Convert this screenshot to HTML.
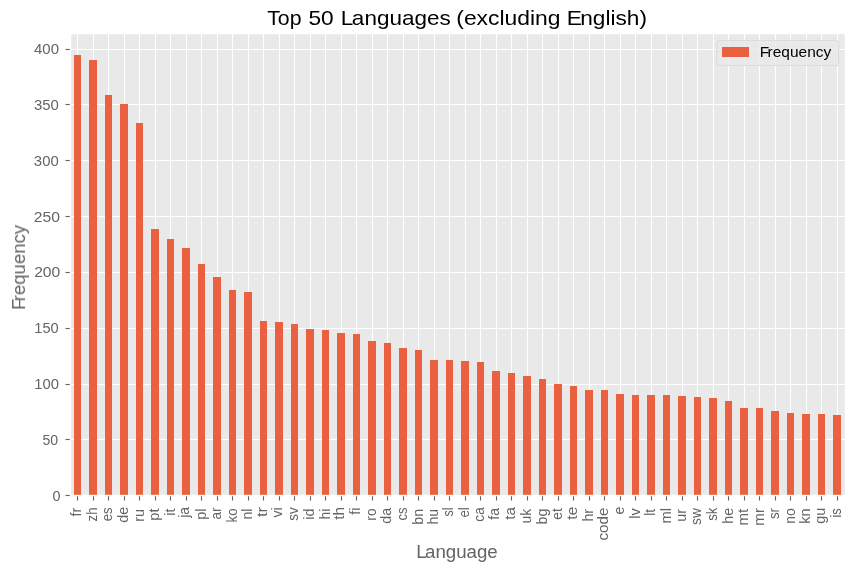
<!DOCTYPE html>
<html lang="en"><head><meta charset="utf-8"><title>Top 50 Languages (excluding English)</title>
<style>html,body{margin:0;padding:0;background:#fff;overflow:hidden}svg{display:block}text{font-family:"Liberation Sans",sans-serif;white-space:pre}.t{fill:#646464}.k{fill:#000}.b{fill:#e96141}.g{fill:#ffffff}.m{fill:#646464}</style></head><body>
<svg width="854" height="572" viewBox="0 0 854 572">
<rect x="0" y="0" width="854" height="572" fill="#fff"/>
<rect x="71.19" y="34.19" width="773.62" height="460.62" fill="#e9e9e9"/>
<g class="g" shape-rendering="crispEdges">
<rect x="71" y="49" width="774" height="1"/>
<rect x="71" y="104" width="774" height="1"/>
<rect x="71" y="160" width="774" height="1"/>
<rect x="71" y="216" width="774" height="1"/>
<rect x="71" y="272" width="774" height="1"/>
<rect x="71" y="328" width="774" height="1"/>
<rect x="71" y="384" width="774" height="1"/>
<rect x="71" y="439" width="774" height="1"/>
<rect x="77" y="34" width="1" height="461"/>
<rect x="93" y="34" width="1" height="461"/>
<rect x="108" y="34" width="1" height="461"/>
<rect x="124" y="34" width="1" height="461"/>
<rect x="139" y="34" width="1" height="461"/>
<rect x="155" y="34" width="1" height="461"/>
<rect x="170" y="34" width="1" height="461"/>
<rect x="186" y="34" width="1" height="461"/>
<rect x="201" y="34" width="1" height="461"/>
<rect x="217" y="34" width="1" height="461"/>
<rect x="232" y="34" width="1" height="461"/>
<rect x="248" y="34" width="1" height="461"/>
<rect x="263" y="34" width="1" height="461"/>
<rect x="279" y="34" width="1" height="461"/>
<rect x="294" y="34" width="1" height="461"/>
<rect x="310" y="34" width="1" height="461"/>
<rect x="325" y="34" width="1" height="461"/>
<rect x="341" y="34" width="1" height="461"/>
<rect x="356" y="34" width="1" height="461"/>
<rect x="372" y="34" width="1" height="461"/>
<rect x="387" y="34" width="1" height="461"/>
<rect x="403" y="34" width="1" height="461"/>
<rect x="418" y="34" width="1" height="461"/>
<rect x="434" y="34" width="1" height="461"/>
<rect x="449" y="34" width="1" height="461"/>
<rect x="465" y="34" width="1" height="461"/>
<rect x="480" y="34" width="1" height="461"/>
<rect x="496" y="34" width="1" height="461"/>
<rect x="511" y="34" width="1" height="461"/>
<rect x="527" y="34" width="1" height="461"/>
<rect x="542" y="34" width="1" height="461"/>
<rect x="558" y="34" width="1" height="461"/>
<rect x="573" y="34" width="1" height="461"/>
<rect x="589" y="34" width="1" height="461"/>
<rect x="604" y="34" width="1" height="461"/>
<rect x="620" y="34" width="1" height="461"/>
<rect x="635" y="34" width="1" height="461"/>
<rect x="651" y="34" width="1" height="461"/>
<rect x="666" y="34" width="1" height="461"/>
<rect x="682" y="34" width="1" height="461"/>
<rect x="697" y="34" width="1" height="461"/>
<rect x="713" y="34" width="1" height="461"/>
<rect x="728" y="34" width="1" height="461"/>
<rect x="744" y="34" width="1" height="461"/>
<rect x="759" y="34" width="1" height="461"/>
<rect x="775" y="34" width="1" height="461"/>
<rect x="790" y="34" width="1" height="461"/>
<rect x="806" y="34" width="1" height="461"/>
<rect x="821" y="34" width="1" height="461"/>
<rect x="837" y="34" width="1" height="461"/>
</g>
<g class="b" shape-rendering="crispEdges">
<rect x="74" y="55" width="7" height="439"/>
<rect x="89" y="60" width="8" height="434"/>
<rect x="105" y="95" width="7" height="399"/>
<rect x="120" y="104" width="8" height="390"/>
<rect x="136" y="123" width="7" height="371"/>
<rect x="151" y="229" width="8" height="265"/>
<rect x="167" y="239" width="7" height="255"/>
<rect x="182" y="248" width="8" height="246"/>
<rect x="198" y="264" width="7" height="230"/>
<rect x="213" y="277" width="8" height="217"/>
<rect x="229" y="290" width="7" height="204"/>
<rect x="244" y="292" width="8" height="202"/>
<rect x="260" y="321" width="7" height="173"/>
<rect x="275" y="322" width="8" height="172"/>
<rect x="291" y="324" width="7" height="170"/>
<rect x="306" y="329" width="8" height="165"/>
<rect x="322" y="330" width="7" height="164"/>
<rect x="337" y="333" width="8" height="161"/>
<rect x="353" y="334" width="7" height="160"/>
<rect x="368" y="341" width="8" height="153"/>
<rect x="384" y="343" width="7" height="151"/>
<rect x="399" y="348" width="8" height="146"/>
<rect x="415" y="350" width="7" height="144"/>
<rect x="430" y="360" width="8" height="134"/>
<rect x="446" y="360" width="7" height="134"/>
<rect x="461" y="361" width="8" height="133"/>
<rect x="477" y="362" width="7" height="132"/>
<rect x="492" y="371" width="8" height="123"/>
<rect x="508" y="373" width="7" height="121"/>
<rect x="523" y="376" width="8" height="118"/>
<rect x="539" y="379" width="7" height="115"/>
<rect x="554" y="384" width="8" height="110"/>
<rect x="570" y="386" width="7" height="108"/>
<rect x="585" y="390" width="8" height="104"/>
<rect x="601" y="390" width="7" height="104"/>
<rect x="616" y="394" width="8" height="100"/>
<rect x="632" y="395" width="7" height="99"/>
<rect x="647" y="395" width="8" height="99"/>
<rect x="663" y="395" width="7" height="99"/>
<rect x="678" y="396" width="8" height="98"/>
<rect x="694" y="397" width="7" height="97"/>
<rect x="709" y="398" width="8" height="96"/>
<rect x="725" y="401" width="7" height="93"/>
<rect x="740" y="408" width="8" height="86"/>
<rect x="756" y="408" width="7" height="86"/>
<rect x="771" y="411" width="8" height="83"/>
<rect x="787" y="413" width="7" height="81"/>
<rect x="802" y="414" width="8" height="80"/>
<rect x="818" y="414" width="7" height="80"/>
<rect x="833" y="415" width="8" height="79"/>
</g>
<g class="b" fill-opacity="0.8" shape-rendering="crispEdges">
<rect x="74" y="494" width="7" height="1"/>
<rect x="89" y="494" width="8" height="1"/>
<rect x="105" y="494" width="7" height="1"/>
<rect x="120" y="494" width="8" height="1"/>
<rect x="136" y="494" width="7" height="1"/>
<rect x="151" y="494" width="8" height="1"/>
<rect x="167" y="494" width="7" height="1"/>
<rect x="182" y="494" width="8" height="1"/>
<rect x="198" y="494" width="7" height="1"/>
<rect x="213" y="494" width="8" height="1"/>
<rect x="229" y="494" width="7" height="1"/>
<rect x="244" y="494" width="8" height="1"/>
<rect x="260" y="494" width="7" height="1"/>
<rect x="275" y="494" width="8" height="1"/>
<rect x="291" y="494" width="7" height="1"/>
<rect x="306" y="494" width="8" height="1"/>
<rect x="322" y="494" width="7" height="1"/>
<rect x="337" y="494" width="8" height="1"/>
<rect x="353" y="494" width="7" height="1"/>
<rect x="368" y="494" width="8" height="1"/>
<rect x="384" y="494" width="7" height="1"/>
<rect x="399" y="494" width="8" height="1"/>
<rect x="415" y="494" width="7" height="1"/>
<rect x="430" y="494" width="8" height="1"/>
<rect x="446" y="494" width="7" height="1"/>
<rect x="461" y="494" width="8" height="1"/>
<rect x="477" y="494" width="7" height="1"/>
<rect x="492" y="494" width="8" height="1"/>
<rect x="508" y="494" width="7" height="1"/>
<rect x="523" y="494" width="8" height="1"/>
<rect x="539" y="494" width="7" height="1"/>
<rect x="554" y="494" width="8" height="1"/>
<rect x="570" y="494" width="7" height="1"/>
<rect x="585" y="494" width="8" height="1"/>
<rect x="601" y="494" width="7" height="1"/>
<rect x="616" y="494" width="8" height="1"/>
<rect x="632" y="494" width="7" height="1"/>
<rect x="647" y="494" width="8" height="1"/>
<rect x="663" y="494" width="7" height="1"/>
<rect x="678" y="494" width="8" height="1"/>
<rect x="694" y="494" width="7" height="1"/>
<rect x="709" y="494" width="8" height="1"/>
<rect x="725" y="494" width="7" height="1"/>
<rect x="740" y="494" width="8" height="1"/>
<rect x="756" y="494" width="7" height="1"/>
<rect x="771" y="494" width="8" height="1"/>
<rect x="787" y="494" width="7" height="1"/>
<rect x="802" y="494" width="8" height="1"/>
<rect x="818" y="494" width="7" height="1"/>
<rect x="833" y="494" width="8" height="1"/>
</g>
<rect x="716.81" y="40.45" width="121.75" height="25.11" rx="2.8" ry="2.8" fill="#e9e9e9" fill-opacity="0.8" stroke="#dcdcdc" stroke-width="1.1"/>
<rect class="b" x="722" y="47" width="27" height="10" shape-rendering="crispEdges"/>
<g class="m">
<rect x="76.95" y="496.2" width="1.1" height="4.3"/>
<rect x="92.95" y="496.2" width="1.1" height="4.3"/>
<rect x="107.95" y="496.2" width="1.1" height="4.3"/>
<rect x="123.95" y="496.2" width="1.1" height="4.3"/>
<rect x="138.95" y="496.2" width="1.1" height="4.3"/>
<rect x="154.95" y="496.2" width="1.1" height="4.3"/>
<rect x="169.95" y="496.2" width="1.1" height="4.3"/>
<rect x="185.95" y="496.2" width="1.1" height="4.3"/>
<rect x="200.95" y="496.2" width="1.1" height="4.3"/>
<rect x="216.95" y="496.2" width="1.1" height="4.3"/>
<rect x="231.95" y="496.2" width="1.1" height="4.3"/>
<rect x="247.95" y="496.2" width="1.1" height="4.3"/>
<rect x="262.95" y="496.2" width="1.1" height="4.3"/>
<rect x="278.95" y="496.2" width="1.1" height="4.3"/>
<rect x="293.95" y="496.2" width="1.1" height="4.3"/>
<rect x="309.95" y="496.2" width="1.1" height="4.3"/>
<rect x="324.95" y="496.2" width="1.1" height="4.3"/>
<rect x="340.95" y="496.2" width="1.1" height="4.3"/>
<rect x="355.95" y="496.2" width="1.1" height="4.3"/>
<rect x="371.95" y="496.2" width="1.1" height="4.3"/>
<rect x="386.95" y="496.2" width="1.1" height="4.3"/>
<rect x="402.95" y="496.2" width="1.1" height="4.3"/>
<rect x="417.95" y="496.2" width="1.1" height="4.3"/>
<rect x="433.95" y="496.2" width="1.1" height="4.3"/>
<rect x="448.95" y="496.2" width="1.1" height="4.3"/>
<rect x="464.95" y="496.2" width="1.1" height="4.3"/>
<rect x="479.95" y="496.2" width="1.1" height="4.3"/>
<rect x="495.95" y="496.2" width="1.1" height="4.3"/>
<rect x="510.95" y="496.2" width="1.1" height="4.3"/>
<rect x="526.95" y="496.2" width="1.1" height="4.3"/>
<rect x="541.95" y="496.2" width="1.1" height="4.3"/>
<rect x="557.95" y="496.2" width="1.1" height="4.3"/>
<rect x="572.95" y="496.2" width="1.1" height="4.3"/>
<rect x="588.95" y="496.2" width="1.1" height="4.3"/>
<rect x="603.95" y="496.2" width="1.1" height="4.3"/>
<rect x="619.95" y="496.2" width="1.1" height="4.3"/>
<rect x="634.95" y="496.2" width="1.1" height="4.3"/>
<rect x="650.95" y="496.2" width="1.1" height="4.3"/>
<rect x="665.95" y="496.2" width="1.1" height="4.3"/>
<rect x="681.95" y="496.2" width="1.1" height="4.3"/>
<rect x="696.95" y="496.2" width="1.1" height="4.3"/>
<rect x="712.95" y="496.2" width="1.1" height="4.3"/>
<rect x="727.95" y="496.2" width="1.1" height="4.3"/>
<rect x="743.95" y="496.2" width="1.1" height="4.3"/>
<rect x="758.95" y="496.2" width="1.1" height="4.3"/>
<rect x="774.95" y="496.2" width="1.1" height="4.3"/>
<rect x="789.95" y="496.2" width="1.1" height="4.3"/>
<rect x="805.95" y="496.2" width="1.1" height="4.3"/>
<rect x="820.95" y="496.2" width="1.1" height="4.3"/>
<rect x="836.95" y="496.2" width="1.1" height="4.3"/>
<rect x="65.5" y="48.95" width="4.3" height="1.1"/>
<rect x="65.5" y="103.95" width="4.3" height="1.1"/>
<rect x="65.5" y="159.95" width="4.3" height="1.1"/>
<rect x="65.5" y="215.95" width="4.3" height="1.1"/>
<rect x="65.5" y="271.95" width="4.3" height="1.1"/>
<rect x="65.5" y="327.95" width="4.3" height="1.1"/>
<rect x="65.5" y="383.95" width="4.3" height="1.1"/>
<rect x="65.5" y="438.95" width="4.3" height="1.1"/>
<rect x="65.5" y="494.95" width="4.3" height="1.1"/>
</g>
<g style="filter:grayscale(1)">
<text class="t" font-size="14.60" text-anchor="end" transform="translate(81.29 507.75) rotate(-90)" textLength="8.86" lengthAdjust="spacingAndGlyphs">fr</text>
<text class="t" font-size="14.60" text-anchor="end" transform="translate(96.60 507.33) rotate(-90)" textLength="14.09" lengthAdjust="spacingAndGlyphs">zh</text>
<text class="t" font-size="14.60" text-anchor="end" transform="translate(112.33 507.39) rotate(-90)" textLength="13.90" lengthAdjust="spacingAndGlyphs">es</text>
<text class="t" font-size="14.60" text-anchor="end" transform="translate(128.22 506.84) rotate(-90)" textLength="15.95" lengthAdjust="spacingAndGlyphs">de</text>
<text class="t" font-size="14.60" text-anchor="end" transform="translate(143.74 509.02) rotate(-90)" textLength="12.70" lengthAdjust="spacingAndGlyphs">ru</text>
<text class="t" font-size="14.60" text-anchor="end" transform="translate(158.86 508.55) rotate(-90)" textLength="12.24" lengthAdjust="spacingAndGlyphs">pt</text>
<text class="t" font-size="14.60" text-anchor="end" transform="translate(174.99 508.45) rotate(-90)" textLength="7.25" lengthAdjust="spacingAndGlyphs">it</text>
<text class="t" font-size="14.60" text-anchor="end" transform="translate(188.88 506.96) rotate(-90)" textLength="10.85" lengthAdjust="spacingAndGlyphs">ja</text>
<text class="t" font-size="14.60" text-anchor="end" transform="translate(206.01 508.43) rotate(-90)" textLength="11.28" lengthAdjust="spacingAndGlyphs">pl</text>
<text class="t" font-size="14.60" text-anchor="end" transform="translate(220.53 507.40) rotate(-90)" textLength="12.17" lengthAdjust="spacingAndGlyphs">ar</text>
<text class="t" font-size="14.60" text-anchor="end" transform="translate(236.93 508.36) rotate(-90)" textLength="14.04" lengthAdjust="spacingAndGlyphs">ko</text>
<text class="t" font-size="14.60" text-anchor="end" transform="translate(251.56 508.54) rotate(-90)" textLength="11.00" lengthAdjust="spacingAndGlyphs">nl</text>
<text class="t" font-size="14.60" text-anchor="end" transform="translate(266.75 506.98) rotate(-90)" textLength="10.10" lengthAdjust="spacingAndGlyphs">tr</text>
<text class="t" font-size="14.60" text-anchor="end" transform="translate(282.10 507.35) rotate(-90)" textLength="10.13" lengthAdjust="spacingAndGlyphs">vi</text>
<text class="t" font-size="14.60" text-anchor="end" transform="translate(297.70 507.34) rotate(-90)" textLength="13.45" lengthAdjust="spacingAndGlyphs">sv</text>
<text class="t" font-size="14.60" text-anchor="end" transform="translate(313.99 508.61) rotate(-90)" textLength="11.15" lengthAdjust="spacingAndGlyphs">id</text>
<text class="t" font-size="14.60" text-anchor="end" transform="translate(330.18 508.76) rotate(-90)" textLength="10.85" lengthAdjust="spacingAndGlyphs">hi</text>
<text class="t" font-size="14.60" text-anchor="end" transform="translate(344.16 506.94) rotate(-90)" textLength="12.85" lengthAdjust="spacingAndGlyphs">th</text>
<text class="t" font-size="14.60" text-anchor="end" transform="translate(359.55 507.71) rotate(-90)" textLength="6.99" lengthAdjust="spacingAndGlyphs">fi</text>
<text class="t" font-size="14.60" text-anchor="end" transform="translate(376.23 508.37) rotate(-90)" textLength="12.33" lengthAdjust="spacingAndGlyphs">ro</text>
<text class="t" font-size="14.60" text-anchor="end" transform="translate(391.11 507.87) rotate(-90)" textLength="15.87" lengthAdjust="spacingAndGlyphs">da</text>
<text class="t" font-size="14.60" text-anchor="end" transform="translate(407.07 507.36) rotate(-90)" textLength="13.12" lengthAdjust="spacingAndGlyphs">cs</text>
<text class="t" font-size="14.60" text-anchor="end" transform="translate(422.96 508.84) rotate(-90)" textLength="15.87" lengthAdjust="spacingAndGlyphs">bn</text>
<text class="t" font-size="14.60" text-anchor="end" transform="translate(437.90 509.03) rotate(-90)" textLength="15.57" lengthAdjust="spacingAndGlyphs">hu</text>
<text class="t" font-size="14.60" text-anchor="end" transform="translate(453.06 507.43) rotate(-90)" textLength="9.11" lengthAdjust="spacingAndGlyphs">sl</text>
<text class="t" font-size="14.60" text-anchor="end" transform="translate(469.27 507.18) rotate(-90)" textLength="10.45" lengthAdjust="spacingAndGlyphs">el</text>
<text class="t" font-size="14.60" text-anchor="end" transform="translate(483.92 507.32) rotate(-90)" textLength="14.32" lengthAdjust="spacingAndGlyphs">ca</text>
<text class="t" font-size="14.60" text-anchor="end" transform="translate(498.75 507.92) rotate(-90)" textLength="11.74" lengthAdjust="spacingAndGlyphs">fa</text>
<text class="t" font-size="14.60" text-anchor="end" transform="translate(514.93 507.01) rotate(-90)" textLength="12.70" lengthAdjust="spacingAndGlyphs">ta</text>
<text class="t" font-size="14.60" text-anchor="end" transform="translate(531.11 508.87) rotate(-90)" textLength="14.71" lengthAdjust="spacingAndGlyphs">uk</text>
<text class="t" font-size="14.60" text-anchor="end" transform="translate(547.05 508.71) rotate(-90)" textLength="15.76" lengthAdjust="spacingAndGlyphs">bg</text>
<text class="t" font-size="14.60" text-anchor="end" transform="translate(562.10 508.15) rotate(-90)" textLength="11.56" lengthAdjust="spacingAndGlyphs">et</text>
<text class="t" font-size="14.60" text-anchor="end" transform="translate(577.18 506.60) rotate(-90)" textLength="13.24" lengthAdjust="spacingAndGlyphs">te</text>
<text class="t" font-size="14.60" text-anchor="end" transform="translate(593.26 508.99) rotate(-90)" textLength="12.59" lengthAdjust="spacingAndGlyphs">hr</text>
<text class="t" font-size="14.60" text-anchor="end" transform="translate(607.98 507.59) rotate(-90)" textLength="32.96" lengthAdjust="spacingAndGlyphs">code</text>
<text class="t" font-size="14.60" text-anchor="end" transform="translate(623.73 506.66) rotate(-90)" textLength="7.90" lengthAdjust="spacingAndGlyphs">e</text>
<text class="t" font-size="14.60" text-anchor="end" transform="translate(640.21 508.19) rotate(-90)" textLength="10.51" lengthAdjust="spacingAndGlyphs">lv</text>
<text class="t" font-size="14.60" text-anchor="end" transform="translate(654.81 508.92) rotate(-90)" textLength="6.83" lengthAdjust="spacingAndGlyphs">lt</text>
<text class="t" font-size="14.60" text-anchor="end" transform="translate(670.74 507.87) rotate(-90)" textLength="15.52" lengthAdjust="spacingAndGlyphs">ml</text>
<text class="t" font-size="14.60" text-anchor="end" transform="translate(685.74 508.99) rotate(-90)" textLength="12.66" lengthAdjust="spacingAndGlyphs">ur</text>
<text class="t" font-size="14.60" text-anchor="end" transform="translate(701.04 508.16) rotate(-90)" textLength="16.73" lengthAdjust="spacingAndGlyphs">sw</text>
<text class="t" font-size="14.60" text-anchor="end" transform="translate(716.71 507.69) rotate(-90)" textLength="13.17" lengthAdjust="spacingAndGlyphs">sk</text>
<text class="t" font-size="14.60" text-anchor="end" transform="translate(733.13 507.88) rotate(-90)" textLength="15.90" lengthAdjust="spacingAndGlyphs">he</text>
<text class="t" font-size="14.60" text-anchor="end" transform="translate(747.96 508.83) rotate(-90)" textLength="16.71" lengthAdjust="spacingAndGlyphs">mt</text>
<text class="t" font-size="14.60" text-anchor="end" transform="translate(764.31 508.06) rotate(-90)" textLength="17.58" lengthAdjust="spacingAndGlyphs">mr</text>
<text class="t" font-size="14.60" text-anchor="end" transform="translate(778.51 508.04) rotate(-90)" textLength="11.04" lengthAdjust="spacingAndGlyphs">sr</text>
<text class="t" font-size="14.60" text-anchor="end" transform="translate(794.72 508.18) rotate(-90)" textLength="15.54" lengthAdjust="spacingAndGlyphs">no</text>
<text class="t" font-size="14.60" text-anchor="end" transform="translate(809.69 508.45) rotate(-90)" textLength="15.36" lengthAdjust="spacingAndGlyphs">kn</text>
<text class="t" font-size="14.60" text-anchor="end" transform="translate(824.74 507.78) rotate(-90)" textLength="16.07" lengthAdjust="spacingAndGlyphs">gu</text>
<text class="t" font-size="14.60" text-anchor="end" transform="translate(841.29 508.28) rotate(-90)" textLength="9.35" lengthAdjust="spacingAndGlyphs">is</text>
<text class="t" font-size="14.15" text-anchor="end" x="60.41" y="501.18" textLength="7.99" lengthAdjust="spacingAndGlyphs">0</text>
<text class="t" font-size="14.15" text-anchor="end" x="58.13" y="445.20" textLength="15.70" lengthAdjust="spacingAndGlyphs">50</text>
<text class="t" font-size="14.15" text-anchor="end" x="58.89" y="389.33" textLength="24.70" lengthAdjust="spacingAndGlyphs">100</text>
<text class="t" font-size="14.15" text-anchor="end" x="58.74" y="333.42" textLength="24.42" lengthAdjust="spacingAndGlyphs">150</text>
<text class="t" font-size="14.15" text-anchor="end" x="60.29" y="277.10" textLength="26.13" lengthAdjust="spacingAndGlyphs">200</text>
<text class="t" font-size="14.15" text-anchor="end" x="59.98" y="222.18" textLength="26.14" lengthAdjust="spacingAndGlyphs">250</text>
<text class="t" font-size="14.15" text-anchor="end" x="58.74" y="165.95" textLength="24.86" lengthAdjust="spacingAndGlyphs">300</text>
<text class="t" font-size="14.15" text-anchor="end" x="58.89" y="109.99" textLength="24.90" lengthAdjust="spacingAndGlyphs">350</text>
<text class="t" font-size="14.15" text-anchor="end" x="58.98" y="53.93" textLength="24.97" lengthAdjust="spacingAndGlyphs">400</text>
<text class="k" font-size="20.60" text-anchor="start" x="267.23" y="24.78" textLength="34.31" lengthAdjust="spacingAndGlyphs">Top</text>
<text class="k" font-size="20.60" text-anchor="start" x="308.46" y="24.78" textLength="25.27" lengthAdjust="spacingAndGlyphs">50</text>
<text class="k" font-size="20.60" text-anchor="start" x="340.67" y="24.78" textLength="110.07" lengthAdjust="spacingAndGlyphs">L<tspan dx="-1.20">anguages</tspan></text>
<text class="k" font-size="20.60" text-anchor="start" x="456.29" y="24.78" textLength="104.22" lengthAdjust="spacingAndGlyphs">(excluding</text>
<text class="k" font-size="20.60" text-anchor="start" x="566.84" y="24.78" textLength="80.22" lengthAdjust="spacingAndGlyphs">E<tspan dx="-1.60">nglish)</tspan></text>
<text class="t" font-size="17.50" text-anchor="middle" x="457.04" y="557.52" textLength="81.46" lengthAdjust="spacingAndGlyphs">L<tspan dx="-1.60">anguage</tspan></text>
<text class="t" font-size="17.50" text-anchor="middle" transform="translate(25.02 267.50) rotate(-90)" textLength="85.19" lengthAdjust="spacingAndGlyphs">F<tspan dx="-2.40">requency</tspan></text>
<text class="k" font-size="14.40" text-anchor="start" x="759.78" y="57.00" textLength="71.49" lengthAdjust="spacingAndGlyphs">F<tspan dx="-1.60">requency</tspan></text>
</g>
</svg></body></html>
